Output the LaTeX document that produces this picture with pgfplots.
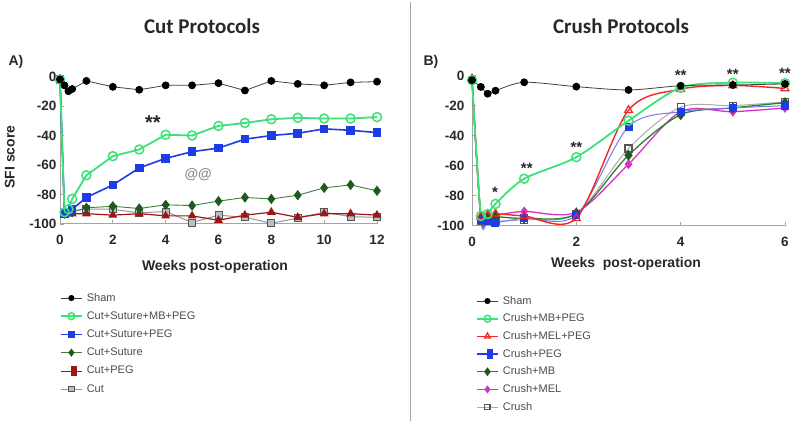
\documentclass[border=0pt]{standalone}
\usepackage{fontspec}
\setmainfont{Liberation Sans}
\newfontfamily\carlito{Carlito}
\usepackage{pgfplots}
\pgfplotsset{compat=1.18}
\definecolor{axisgray}{RGB}{165,165,165}
\definecolor{mint}{RGB}{60,225,120}
\definecolor{cblue}{RGB}{30,60,230}
\definecolor{lblue}{RGB}{120,120,235}
\definecolor{dkgreen}{RGB}{30,90,30}
\definecolor{mgreen}{RGB}{40,130,40}
\definecolor{dkred}{RGB}{160,20,20}
\definecolor{cred}{RGB}{240,40,40}
\definecolor{magen}{RGB}{215,50,200}
\definecolor{sqgray}{RGB}{190,190,190}
\definecolor{edgegray}{RGB}{85,85,85}
\definecolor{linegray}{RGB}{150,150,150}
\definecolor{txt}{RGB}{40,40,40}
\pgfplotsset{
  panel/.style={
    scale only axis,
    axis x line*=bottom, axis y line*=left,
    axis line style={draw=axisgray, line width=1pt},
    tick style={draw=axisgray, line width=0.8pt},
    major tick length=4pt,
    ymin=-100, ymax=0, ytick={-100,-80,...,0},
    clip=false,
    tick label style={font=\fontsize{13.5}{16}\selectfont\bfseries, text=txt},
    xticklabel style={yshift=-8pt},
    /pgf/number format/assume math mode=true,
    label style={font=\fontsize{14}{16}\selectfont\bfseries, text=txt},
    reverse legend,
    legend cell align=left,
    legend image code/.code={\draw[mark repeat=2,mark phase=2,#1] plot coordinates {(0pt,0pt) (10.5pt,0pt) (21pt,0pt)};},
    legend image post style={/tikz/every mark/.append style={scale=0.75}},
  },
  lgd/.style={legend style={draw=none, fill=none, inner sep=0pt, outer sep=0pt,
    font=\fontsize{11}{13}\selectfont, text=black!70, row sep=#1,
    nodes={inner ysep=0pt, inner xsep=4pt, text height=8pt, text depth=2pt}}},
}
\begin{document}
\begin{tikzpicture}
\useasboundingbox (0,0) rectangle (800pt,422pt);
\draw[axisgray, line width=1pt] (410pt,1pt) -- (410pt,420pt);
% ---------------- Panel A ----------------
\begin{axis}[panel, lgd=8.2pt,
  at={(60pt,198pt)}, anchor=south west,
  width=317pt, height=147.5pt,
  xmin=0, xmax=12, xtick={0,2,...,12},
  xlabel={Weeks post-operation},
  xlabel style={at={(axis description cs:0.489,-0.29)}, anchor=center},
  ylabel={SFI score},
  ylabel style={at={(axis description cs:-0.158,0.454)}, anchor=center},
  title={Cut Protocols},
  title style={at={(axis description cs:0.448,1.30)}, anchor=center, font=\carlito\bfseries\fontsize{21}{24}\selectfont, text=txt},
  legend style={at={(axis description cs:0,-0.468)}, anchor=north west},
]
\addplot[linegray, line width=1pt, mark=square*, mark size=3.5pt, mark options={fill=sqgray, draw=edgegray, line width=0.9pt}] coordinates {
(0,-2) (0.17,-93) (0.32,-92) (0.46,-91) (1,-90) (2,-90) (3,-92.5) (4,-91.5) (5,-99) (6,-94) (7,-95.5) (8,-99.5) (9,-96) (10,-92) (11,-95) (12,-95.5)};
\addlegendentry{Cut}
\addplot[dkred, line width=1.2pt, mark=triangle*, mark size=4pt, mark options={fill=dkred},
  legend image code/.code={\draw[dkred, line width=0.6pt] (0pt,0pt) -- (21pt,0pt); \node[draw=none, fill=dkred, minimum size=6pt, inner sep=0pt] at (10.5pt,0pt) {};}] coordinates {
(0,-2) (0.17,-93) (0.32,-93) (0.46,-93) (1,-93) (2,-94) (3,-93) (4,-94.5) (5,-94.5) (6,-97.5) (7,-94) (8,-92) (9,-95.5) (10,-93) (11,-93) (12,-94)};
\addlegendentry{Cut+PEG}
\addplot[mgreen!80!gray, line width=0.9pt, mark=diamond*, mark size=4.5pt, mark options={fill=dkgreen, draw=dkgreen}] coordinates {
(0,-2) (0.17,-93) (0.32,-92) (0.46,-92) (1,-89) (2,-88) (3,-89.5) (4,-87) (5,-87.5) (6,-84.5) (7,-82) (8,-83) (9,-80.5) (10,-75.5) (11,-73.5) (12,-77.5)};
\addlegendentry{Cut+Suture}
\addplot[cblue, line width=1.6pt, mark=square*, mark size=3.5pt, mark options={fill=cblue}] coordinates {
(0,-2) (0.17,-93) (0.32,-92) (0.46,-90) (1,-82) (2,-73.5) (3,-62) (4,-55.5) (5,-51) (6,-48.5) (7,-42.5) (8,-40) (9,-38.5) (10,-35.5) (11,-36.5) (12,-38)};
\addlegendentry{Cut+Suture+PEG}
\addplot[mint, line width=1.8pt, mark=o, mark size=4.5pt, mark options={fill=white, line width=1.5pt}] coordinates {
(0,-2) (0.17,-92) (0.32,-90) (0.46,-83) (1,-67) (2,-54) (3,-49.5) (4,-39.5) (5,-40) (6,-33.5) (7,-31.5) (8,-29) (9,-28) (10,-28.5) (11,-28.5) (12,-27.5)};
\addlegendentry{Cut+Suture+MB+PEG}
\addplot[black!75, line width=0.8pt, mark=*, mark size=3.5pt, mark options={fill=black, draw=black}] coordinates {
(0,-2) (0.17,-6) (0.32,-10) (0.46,-8.5) (1,-3) (2,-7) (3,-9) (4,-6) (5,-6) (6,-4.5) (7,-9.5) (8,-3) (9,-5) (10,-6) (11,-4) (12,-3.5)};
\addlegendentry{Sham}
\node[font=\fontsize{20}{20}\selectfont\bfseries, text=txt] at (axis cs:3.52,-31) {**};
\node[font=\fontsize{14}{16}\selectfont\bfseries, text=black!45] at (axis cs:5.23,-66.8) {@@};
\node[font=\fontsize{14}{16}\selectfont\bfseries, text=txt] at (axis description cs:-0.139,1.098) {A)};
\end{axis}
% ---------------- Panel B ----------------
\begin{axis}[panel, lgd=7.67pt,
  at={(472pt,196.3pt)}, anchor=south west,
  width=313pt, height=150pt,
  xmin=0, xmax=6, xtick={0,2,...,6},
  xlabel={Weeks\ \ post-operation},
  xlabel style={at={(axis description cs:0.492,-0.255)}, anchor=center},
  title={Crush Protocols},
  title style={at={(axis description cs:0.476,1.29)}, anchor=center, font=\carlito\bfseries\fontsize{21}{24}\selectfont, text=txt},
  legend style={at={(axis description cs:0.013,-0.469)}, anchor=north west},
  yticklabel style={xshift=-4pt},
]
\addplot[smooth, linegray!80, line width=1pt, mark=square, mark size=3.5pt, mark options={fill=white!90!gray, draw=edgegray, line width=1.2pt}] coordinates {
(0,-3) (0.17,-97) (0.3,-97) (0.45,-97) (1,-96) (2,-92) (3,-48.5) (4,-21) (5,-20) (6,-17.5)};
\addlegendentry{Crush}
\addplot[smooth, magen, line width=1.3pt, mark=diamond*, mark size=4pt, mark options={fill=magen}] coordinates {
(0,-3) (0.17,-94) (0.3,-93) (0.45,-93) (1,-90.5) (2,-91) (3,-59) (4,-24) (5,-24) (6,-21.5)};
\addlegendentry{Crush+MEL}
\addplot[smooth, mgreen, line width=1.3pt, mark=diamond*, mark size=4.5pt, mark options={fill=dkgreen, draw=dkgreen}] coordinates {
(0,-3) (0.17,-95) (0.3,-95) (0.45,-94) (1,-95) (2,-92) (3,-53) (4,-26) (5,-21.5) (6,-18)};
\addlegendentry{Crush+MB}
\addplot[smooth, lblue, line width=1pt, mark=square*, mark size=3.5pt, mark options={fill=cblue, draw=cblue},
  legend image code/.code={\draw[cblue, line width=1.4pt] (0pt,0pt) -- (21pt,0pt); \node[fill=cblue, minimum size=6pt, inner sep=0pt] at (10.5pt,0pt) {};}] coordinates {
(0,-3) (0.17,-96) (0.3,-97) (0.45,-98) (1,-95) (2,-93) (3,-34) (4,-24) (5,-21.5) (6,-20)};
\addlegendentry{Crush+PEG}
\addplot[smooth, cred, line width=1.4pt, mark=triangle, mark size=4.5pt, mark options={fill=white, line width=1.3pt}] coordinates {
(0,-2) (0.17,-94) (0.3,-93) (0.45,-92) (1,-93.5) (2,-95) (3,-23) (4,-9) (5,-6.5) (6,-8.5)};
\addlegendentry{Crush+MEL+PEG}
\addplot[smooth, mint, line width=1.8pt, mark=o, mark size=4.5pt, mark options={fill=white, line width=1.5pt}] coordinates {
(0,-3) (0.17,-93.5) (0.3,-92.2) (0.45,-85.5) (1,-68.7) (2,-54.3) (3,-30) (4,-8) (5,-4.7) (6,-5)};
\addlegendentry{Crush+MB+PEG}
\addplot[smooth, black!75, line width=0.8pt, mark=*, mark size=3.5pt, mark options={fill=black, draw=black}] coordinates {
(0,-3) (0.17,-7.5) (0.3,-12) (0.45,-10) (1,-4.4) (2,-7.3) (3,-9.5) (4,-6.7) (5,-6.2) (6,-5.5)};
\addlegendentry{Sham}
\node[font=\fontsize{15}{15}\selectfont\bfseries, text=txt] at (axis cs:0.44,-78) {*};
\node[font=\fontsize{15}{15}\selectfont\bfseries, text=txt] at (axis cs:1.05,-62) {**};
\node[font=\fontsize{15}{15}\selectfont\bfseries, text=txt] at (axis cs:2.0,-47.5) {**};
\node[font=\fontsize{15}{15}\selectfont\bfseries, text=txt] at (axis cs:4.0,0.5) {**};
\node[font=\fontsize{15}{15}\selectfont\bfseries, text=txt] at (axis cs:5.0,1.2) {**};
\node[font=\fontsize{15}{15}\selectfont\bfseries, text=txt] at (axis cs:6.0,1.8) {**};
\node[font=\fontsize{14}{16}\selectfont\bfseries, text=txt] at (axis description cs:-0.131,1.091) {B)};
\end{axis}
\end{tikzpicture}
\end{document}
